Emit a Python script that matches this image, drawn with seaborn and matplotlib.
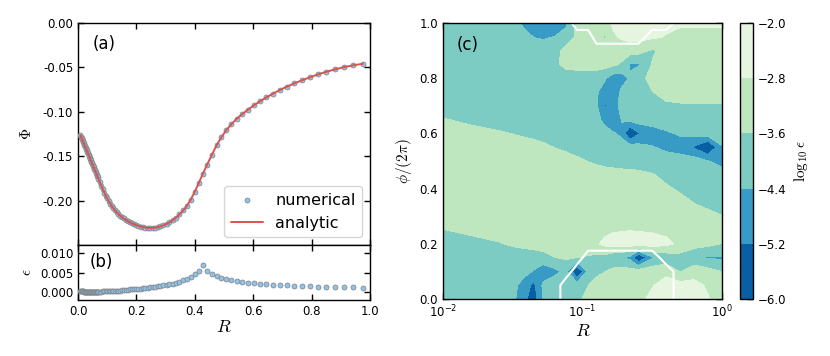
import numpy as np
import matplotlib
matplotlib.use("Agg")
import matplotlib.pyplot as plt
import seaborn as sns

# (a)/(b): numerical points on the radial grid
r_num = [0.008, 0.010, 0.012, 0.014, 0.016, 0.018, 0.020, 0.022, 0.024, 0.026,
         0.028, 0.030, 0.032, 0.034, 0.036, 0.038, 0.040, 0.042, 0.044, 0.046,
         0.048, 0.050, 0.052, 0.054, 0.056, 0.058, 0.060, 0.062, 0.064, 0.066,
         0.068, 0.070, 0.075, 0.080, 0.085, 0.090, 0.095, 0.100, 0.105, 0.110,
         0.115, 0.120, 0.126, 0.132, 0.138, 0.144, 0.150, 0.156, 0.163, 0.170,
         0.177, 0.184, 0.192, 0.200, 0.207, 0.214, 0.222, 0.230, 0.238, 0.246,
         0.255, 0.264, 0.273, 0.282, 0.292, 0.303, 0.313, 0.324, 0.336, 0.347,
         0.360, 0.372, 0.385, 0.399, 0.413, 0.427, 0.442, 0.458, 0.474, 0.490,
         0.507, 0.525, 0.543, 0.562, 0.582, 0.602, 0.623, 0.645, 0.668, 0.691,
         0.715, 0.740, 0.766, 0.793, 0.821, 0.850, 0.879, 0.910, 0.942, 0.975]
phi_num = [-0.1264, -0.1280, -0.1295, -0.1311, -0.1326, -0.1342, -0.1357, -0.1373, -0.1389, -0.1405,
           -0.1420, -0.1436, -0.1452, -0.1468, -0.1484, -0.1500, -0.1516, -0.1532, -0.1548, -0.1564,
           -0.1580, -0.1596, -0.1612, -0.1628, -0.1644, -0.1660, -0.1676, -0.1692, -0.1708, -0.1724,
           -0.1740, -0.1756, -0.1796, -0.1835, -0.1873, -0.1910, -0.1945, -0.1977, -0.2007, -0.2035,
           -0.2060, -0.2083, -0.2108, -0.2131, -0.2151, -0.2170, -0.2187, -0.2202, -0.2218, -0.2232,
           -0.2245, -0.2257, -0.2268, -0.2278, -0.2286, -0.2293, -0.2299, -0.2304, -0.2307, -0.2309,
           -0.2309, -0.2306, -0.2300, -0.2292, -0.2280, -0.2264, -0.2246, -0.2222, -0.2192, -0.2157,
           -0.2112, -0.2062, -0.1995, -0.1905, -0.1805, -0.1700, -0.1595, -0.1485, -0.1380, -0.1290,
           -0.1210, -0.1140, -0.1080, -0.1027, -0.0976, -0.0928, -0.0882, -0.0838, -0.0795, -0.0755,
           -0.0717, -0.0681, -0.0647, -0.0613, -0.0580, -0.0550, -0.0523, -0.0498, -0.0477, -0.0460]
eps_num = [0.0002, 0.0002, 0.0002, 0.0002, 0.0002, 0.0002, 0.0001, 0.0001, 0.0001, 0.0001,
           0.0001, 0.0001, 0.0001, 0.0001, 0.0001, 0.0001, 0.0001, 0.0001, 0.0001, 0.0001,
           0.0001, 0.0001, 0.0001, 0.0001, 0.0001, 0.0001, 0.0001, 0.0001, 0.0001, 0.0001,
           0.0001, 0.0001, 0.0001, 0.0001, 0.0002, 0.0002, 0.0002, 0.0002, 0.0002, 0.0003,
           0.0003, 0.0003, 0.0003, 0.0004, 0.0004, 0.0004, 0.0005, 0.0005, 0.0006, 0.0006,
           0.0007, 0.0007, 0.0008, 0.0008, 0.0009, 0.0009, 0.0010, 0.0011, 0.0011, 0.0012,
           0.0013, 0.0014, 0.0015, 0.0016, 0.0018, 0.0019, 0.0021, 0.0022, 0.0024, 0.0027,
           0.0030, 0.0034, 0.0039, 0.0046, 0.0055, 0.0068, 0.0054, 0.0046, 0.0040, 0.0036,
           0.0033, 0.0030, 0.0028, 0.0026, 0.0024, 0.0023, 0.0021, 0.0020, 0.0019, 0.0018,
           0.0017, 0.0016, 0.0015, 0.0015, 0.0014, 0.0014, 0.0013, 0.0012, 0.0012, 0.0011]

# (c): log10(eps) read on a grid of log10(R) (columns) and phi/(2pi) (rows)
log_r_grid = [-2.0, -1.8, -1.6, -1.5, -1.42, -1.35, -1.28, -1.2, -1.12, -1.04, -0.96, -0.9,
              -0.84, -0.78, -0.72, -0.66, -0.6, -0.5, -0.4, -0.3, -0.2, -0.1, 0.0]
phase_grid = [0.0, 0.05, 0.1, 0.15, 0.2, 0.25, 0.3, 0.35, 0.4, 0.45, 0.5,
              0.55, 0.6, 0.65, 0.7, 0.75, 0.8, 0.85, 0.9, 0.95, 1.0]
log_eps = [
    [-4.0, -4.0, -4.0, -4.2, -5.0, -5.6, -4.3, -4.0, -4.0, -3.8, -3.3, -3.2, -3.2, -3.2, -3.2, -3.1, -3.0, -2.6, -2.4, -2.5, -2.6, -2.75, -3.2],
    [-4.0, -4.0, -4.0, -4.1, -4.8, -5.4, -4.2, -4.0, -4.0, -3.9, -3.62, -3.3, -3.2, -3.2, -3.2, -3.1, -3.0, -2.85, -2.5, -2.5, -2.6, -2.9, -3.3],
    [-4.0, -4.0, -4.0, -4.0, -4.1, -4.45, -4.9, -4.6, -4.2, -6.1, -4.3, -3.8, -3.62, -3.4, -3.3, -3.3, -3.2, -3.1, -3.0, -3.65, -3.1, -3.3, -3.62],
    [-4.0, -4.0, -4.0, -4.0, -4.0, -4.0, -3.9, -3.62, -3.5, -3.58, -3.7, -3.8, -3.9, -4.2, -4.3, -4.6, -6.1, -4.5, -4.1, -3.9, -4.2, -4.5, -4.5],
    [-4.0, -3.9, -3.65, -3.5, -3.4, -3.3, -3.2, -3.2, -3.2, -3.2, -3.1, -2.9, -2.6, -2.4, -2.4, -2.4, -2.4, -2.4, -2.6, -3.0, -3.3, -3.4, -3.62],
    [-3.62, -3.4, -3.3, -3.2, -3.2, -3.2, -3.2, -3.2, -3.2, -3.2, -3.2, -3.1, -3.0, -2.9, -2.85, -2.82, -2.85, -2.9, -3.0, -3.1, -3.2, -3.2, -3.3],
    [-3.2, -3.2, -3.2, -3.2, -3.2, -3.2, -3.2, -3.2, -3.2, -3.2, -3.2, -3.2, -3.2, -3.2, -3.2, -3.2, -3.2, -3.2, -3.2, -3.2, -3.3, -3.4, -3.58],
    [-3.2, -3.2, -3.2, -3.2, -3.2, -3.2, -3.2, -3.2, -3.2, -3.2, -3.2, -3.2, -3.2, -3.2, -3.2, -3.2, -3.2, -3.2, -3.2, -3.4, -3.62, -3.8, -3.9],
    [-3.2, -3.2, -3.2, -3.2, -3.2, -3.2, -3.2, -3.2, -3.2, -3.2, -3.2, -3.2, -3.2, -3.2, -3.2, -3.2, -3.2, -3.3, -3.5, -3.7, -3.9, -4.0, -4.0],
    [-3.2, -3.2, -3.2, -3.2, -3.2, -3.2, -3.2, -3.2, -3.2, -3.2, -3.2, -3.2, -3.2, -3.2, -3.3, -3.35, -3.4, -3.55, -3.8, -4.0, -4.0, -4.0, -4.0],
    [-3.2, -3.2, -3.2, -3.2, -3.2, -3.2, -3.2, -3.2, -3.2, -3.4, -3.62, -3.75, -3.9, -4.0, -4.0, -4.0, -4.0, -4.0, -4.0, -4.0, -4.0, -4.38, -4.7],
    [-3.2, -3.2, -3.2, -3.2, -3.2, -3.2, -3.4, -3.62, -3.8, -4.0, -4.0, -4.0, -4.0, -4.0, -4.0, -4.0, -4.1, -4.35, -4.6, -4.8, -5.3, -6.1, -4.45],
    [-3.2, -3.3, -3.5, -3.62, -3.75, -3.9, -4.0, -4.0, -4.0, -4.0, -4.0, -4.0, -4.0, -4.3, -4.6, -6.1, -5.3, -4.8, -4.5, -4.3, -4.1, -4.0, -4.0],
    [-3.55, -3.8, -4.0, -4.0, -4.0, -4.0, -4.0, -4.0, -4.0, -4.0, -4.0, -4.1, -4.7, -5.3, -4.35, -4.2, -4.0, -4.0, -4.0, -4.0, -4.0, -4.0, -4.0],
    [-4.0, -4.0, -4.0, -4.0, -4.0, -4.0, -4.0, -4.0, -4.0, -4.0, -4.0, -4.3, -5.3, -4.8, -4.1, -4.0, -4.0, -3.9, -3.75, -3.7, -3.7, -3.7, -3.7],
    [-4.0, -4.0, -4.0, -4.0, -4.0, -4.0, -4.0, -4.0, -4.0, -4.0, -4.1, -4.3, -4.8, -5.0, -4.2, -4.0, -3.9, -3.62, -3.3, -3.2, -3.2, -3.2, -3.2],
    [-4.0, -4.0, -4.0, -4.0, -4.0, -4.0, -4.0, -4.0, -4.0, -4.0, -4.0, -4.0, -4.3, -4.8, -4.8, -4.3, -3.8, -3.4, -3.2, -3.2, -3.2, -3.2, -3.2],
    [-4.0, -4.0, -4.0, -4.0, -4.0, -4.0, -4.0, -3.75, -3.4, -3.3, -3.3, -3.3, -3.3, -3.45, -3.7, -4.5, -4.5, -3.55, -3.3, -3.2, -3.2, -3.2, -3.2],
    [-4.0, -4.0, -4.0, -4.0, -4.0, -4.0, -4.0, -3.8, -3.4, -3.2, -3.2, -3.2, -3.2, -3.2, -3.2, -3.2, -3.3, -3.7, -3.3, -3.2, -3.2, -3.2, -3.2],
    [-4.0, -4.0, -4.0, -4.0, -4.1, -4.42, -4.5, -4.38, -4.0, -3.5, -3.2, -3.2, -3.7, -2.9, -2.7, -2.55, -2.55, -2.65, -2.85, -3.2, -3.2, -3.2, -3.2],
    [-4.0, -4.0, -4.0, -4.0, -4.6, -4.9, -5.0, -5.3, -4.6, -3.4, -3.2, -3.2, -3.0, -2.7, -2.5, -2.4, -2.4, -2.5, -2.6, -2.6, -2.6, -2.6, -2.6],
]
# grid nodes inside the white outlines (1 = inside)
outline_mask = [
    "00000000111111111110000",
    "00000000111111111110000",
    "00000000011111111110000",
    "00000000001111111100000",
    "00000000000000000000000",
    "00000000000000000000000",
    "00000000000000000000000",
    "00000000000000000000000",
    "00000000000000000000000",
    "00000000000000000000000",
    "00000000000000000000000",
    "00000000000000000000000",
    "00000000000000000000000",
    "00000000000000000000000",
    "00000000000000000000000",
    "00000000000000000000000",
    "00000000000000000000000",
    "00000000000000000000000",
    "00000000000000000000000",
    "00000000000111111000000",
    "00000000011111111110000",
]
levels = [-6.0, -5.2, -4.4, -3.6, -2.8, -2.0]

dot_color = "#8fc3e8"
line_color = "#d9534f"

sns.set_style("ticks", {"xtick.direction": "in", "ytick.direction": "in",
                        "axes.edgecolor": "black", "text.color": "black",
                        "axes.labelcolor": "black", "xtick.color": "black",
                        "ytick.color": "black"})
plt.rcParams["font.family"] = ["DejaVu Sans"]
plt.rcParams["mathtext.fontset"] = "cm"
plt.rcParams["xtick.labelsize"] = 8.5
plt.rcParams["ytick.labelsize"] = 8.5
plt.rcParams["axes.linewidth"] = 1.0

fig = plt.figure(figsize=(8.3, 3.56), dpi=100)
ax_a = fig.add_axes([0.094, 0.312, 0.352, 0.6236])
ax_b = fig.add_axes([0.094, 0.1573, 0.352, 0.1545], sharex=ax_a)
ax_c = fig.add_axes([0.5337, 0.1601, 0.3361, 0.7753])
cax = fig.add_axes([0.8916, 0.1601, 0.0157, 0.7753])

# panel (a)
sns.scatterplot(x=r_num, y=phi_num, ax=ax_a, s=13, color=dot_color,
                edgecolor="#7f7f7f", linewidth=0.5, label="numerical", zorder=3)
sns.lineplot(x=r_num, y=phi_num, ax=ax_a, color=line_color, linewidth=1.4,
             label="analytic", zorder=4)
ax_a.set_xlim(0, 1)
ax_a.set_ylim(-0.25, 0)
ax_a.set_yticks([0, -0.05, -0.10, -0.15, -0.20])
ax_a.yaxis.set_major_formatter(matplotlib.ticker.FormatStrFormatter("%.2f"))
ax_a.tick_params(top=True, right=True, labelbottom=False)
ax_a.set_ylabel(r"$\Phi$", fontsize=11)
ax_a.yaxis.set_label_coords(-0.15, 0.5)
ax_a.legend(loc="lower right", fontsize=11.5)
ax_a.text(0.05, 0.905, "(a)", transform=ax_a.transAxes, fontsize=12, va="center")

# panel (b)
sns.scatterplot(x=r_num, y=eps_num, ax=ax_b, s=13, color=dot_color,
                edgecolor="#7f7f7f", linewidth=0.5, zorder=3, legend=False)
ax_b.set_ylim(-0.002, 0.012)
ax_b.set_yticks([0, 0.005, 0.010])
ax_b.yaxis.set_major_formatter(matplotlib.ticker.FormatStrFormatter("%.3f"))
ax_b.set_xticks([0, 0.2, 0.4, 0.6, 0.8, 1.0])
ax_b.tick_params(top=True, right=True)
ax_b.set_xlabel(r"$R$", fontsize=13, labelpad=0)
ax_b.set_ylabel(r"$\epsilon$", fontsize=11)
ax_b.yaxis.set_label_coords(-0.15, 0.5)
ax_b.text(0.04, 0.69, "(b)", transform=ax_b.transAxes, fontsize=12, va="center")

# panel (c)
r_grid = 10 ** np.array(log_r_grid)
z = np.array(log_eps)
mask = np.array([[int(ch) for ch in row] for row in outline_mask], dtype=float)
cs = ax_c.contourf(r_grid, phase_grid, z, levels=levels, cmap="GnBu_r")
ax_c.contour(r_grid, phase_grid, mask, levels=[0.5], colors="white", linewidths=1.5)
ax_c.set_xscale("log")
ax_c.set_xlim(1e-2, 1)
ax_c.set_ylim(0, 1)
ax_c.set_yticks([0, 0.2, 0.4, 0.6, 0.8, 1.0])
ax_c.tick_params(which="both", top=True, right=True)
ax_c.set_xlabel(r"$R$", fontsize=13, labelpad=1)
ax_c.set_ylabel(r"$\phi/(2\pi)$", fontsize=11)
ax_c.yaxis.set_label_coords(-0.105, 0.5)
ax_c.text(0.05, 0.92, "(c)", transform=ax_c.transAxes, fontsize=12, va="center")

for ax in (ax_a, ax_b, ax_c):
    ax.tick_params(which="major", direction="in", length=4.5, width=1.0, color="black")
    ax.tick_params(which="minor", direction="in", length=2.5, width=0.8, color="black")

cb = fig.colorbar(cs, cax=cax, ticks=levels)
cb.ax.tick_params(direction="in", length=4.5, width=1.0, color="black", labelsize=8.5)
cb.outline.set_linewidth(1.0)
cb.set_label(r"$\log_{10}\epsilon$", fontsize=11)

fig.savefig("out.png", dpi=100)
